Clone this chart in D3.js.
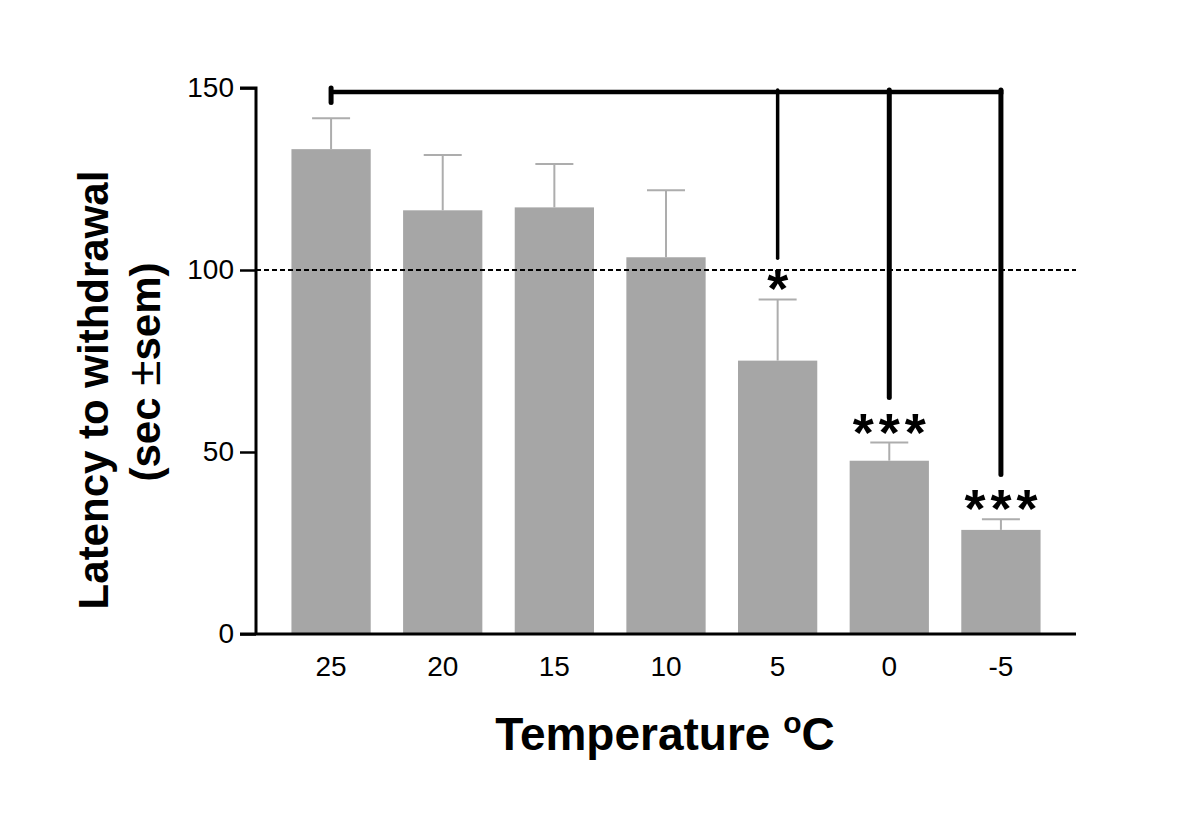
<!DOCTYPE html>
<html>
<head>
<meta charset="utf-8">
<script src="https://cdn.jsdelivr.net/npm/d3@7"></script>
<style>
  html, body { margin: 0; padding: 0; background: #fff; }
  svg { display: block; }
</style>
</head>
<body>
<svg id="chart" width="1200" height="828"></svg>
<script>
// ---- data ----
const categories = ["25", "20", "15", "10", "5", "0", "-5"];
const means = [133.2, 116.4, 117.2, 103.5, 75.1, 47.6, 28.6];
const sems = [8.5, 15.2, 11.9, 18.4, 16.8, 5.0, 2.9];
const yTicks = [0, 50, 100, 150];
const referenceLine = 100;
const stars = ["", "", "", "", "*", "***", "***"];
// significance bracket: from control (25) to tested groups
const bracketControl = "25";
const bracketLevel = 148.9;
const bracketStub = [150.0, 146.0];
const bracketTargets = ["5", "0", "-5"];
const bracketEnds = [103.2, 65.0, 43.8];
const bracketWidths = [3.5, 5, 5];

// ---- layout ----
const svg = d3.select("#chart");
const mLeft = 256, mRight = 1076, mTop = 88, mBottom = 634;
const font = "'Liberation Sans', Arial, Helvetica, sans-serif";

const x = d3.scaleBand().domain(categories).range([mLeft, mRight])
  .paddingInner(0.29).paddingOuter(0.3175);
const y = d3.scaleLinear().domain([0, 150]).range([mBottom, mTop]);
const cx = d => x(d) + x.bandwidth() / 2;

// bars
svg.append("g").selectAll("rect").data(categories).join("rect")
  .attr("x", d => x(d))
  .attr("width", x.bandwidth())
  .attr("y", (d, i) => y(means[i]))
  .attr("height", (d, i) => y(0) - y(means[i]))
  .attr("fill", "#a6a6a6");

// error bars (upper only)
const capW = 38;
const eb = svg.append("g").attr("stroke", "#adadad").attr("stroke-width", 2);
categories.forEach((c, i) => {
  eb.append("line").attr("x1", cx(c)).attr("x2", cx(c))
    .attr("y1", y(means[i])).attr("y2", y(means[i] + sems[i]));
  eb.append("line").attr("x1", cx(c) - capW / 2).attr("x2", cx(c) + capW / 2)
    .attr("y1", y(means[i] + sems[i])).attr("y2", y(means[i] + sems[i]));
});

// reference dotted line
svg.append("line")
  .attr("x1", mLeft).attr("x2", mRight)
  .attr("y1", y(referenceLine)).attr("y2", y(referenceLine))
  .attr("stroke", "#000").attr("stroke-width", 2.2)
  .attr("stroke-dasharray", "5,3");

// axes
const yAxis = d3.axisLeft(y).tickValues(yTicks).tickSize(16).tickPadding(6);
const gy = svg.append("g").attr("transform", `translate(${mLeft},0)`).call(yAxis);
gy.select(".domain").attr("stroke-width", 3).attr("d", `M-16,${y(150)}H0V${y(0)}`);
gy.selectAll(".tick line").attr("stroke-width", 2.5);
gy.selectAll(".tick text").attr("font-family", font).attr("font-size", 28).attr("fill", "#000");

const xAxis = d3.axisBottom(x).tickSize(0).tickPadding(22);
const gx = svg.append("g").attr("transform", `translate(0,${mBottom})`).call(xAxis);
gx.select(".domain").attr("stroke-width", 3).attr("d", `M${mLeft - 16},0H${mRight}`);
gx.selectAll(".tick text").attr("font-family", font).attr("font-size", 28).attr("fill", "#000");

// significance stars
const starSpacing = 5;
svg.append("g").selectAll("text").data(categories).join("text")
  .attr("x", d => cx(d) + starSpacing / 2)
  .attr("y", (d, i) => y(means[i] + sems[i]) + 8)
  .attr("text-anchor", "middle")
  .attr("font-family", font).attr("font-weight", "bold")
  .attr("font-size", 54).attr("letter-spacing", starSpacing)
  .text((d, i) => stars[i]);

// bracket
const br = svg.append("g").attr("stroke", "#000").attr("fill", "none");
br.append("line")
  .attr("x1", cx(bracketControl)).attr("x2", cx(bracketTargets[bracketTargets.length - 1]) + 2.5)
  .attr("y1", y(bracketLevel)).attr("y2", y(bracketLevel))
  .attr("stroke-width", 4.5);
br.append("line")
  .attr("x1", cx(bracketControl)).attr("x2", cx(bracketControl))
  .attr("y1", y(bracketStub[0])).attr("y2", y(bracketStub[1]))
  .attr("stroke-width", 5).attr("stroke-linecap", "round");
bracketTargets.forEach((t, i) => {
  br.append("line")
    .attr("x1", cx(t)).attr("x2", cx(t))
    .attr("y1", y(bracketLevel) - 2).attr("y2", y(bracketEnds[i]))
    .attr("stroke-width", bracketWidths[i]).attr("stroke-linecap", "round");
});

// axis titles
const xt = svg.append("text")
  .attr("x", 665).attr("y", 750)
  .attr("text-anchor", "middle")
  .attr("font-family", font).attr("font-weight", "bold").attr("font-size", 46)
  .attr("fill", "#000");
xt.append("tspan").text("Temperature ");
xt.append("tspan").attr("font-size", 30).attr("dy", -17).text("o");
xt.append("tspan").attr("dy", 17).text("C");

const yt = svg.append("text")
  .attr("transform", "rotate(-90)")
  .attr("text-anchor", "middle")
  .attr("font-family", font).attr("font-weight", "bold").attr("font-size", 42)
  .attr("fill", "#000");
yt.append("tspan").attr("x", -390).attr("y", 108).text("Latency to withdrawal");
const l2 = yt.append("tspan").attr("x", -372).attr("y", 160);
l2.append("tspan").text("(sec ");
l2.append("tspan").attr("font-weight", "normal").attr("font-size", 46).text("±");
l2.append("tspan").text("sem)");
</script>
</body>
</html>
